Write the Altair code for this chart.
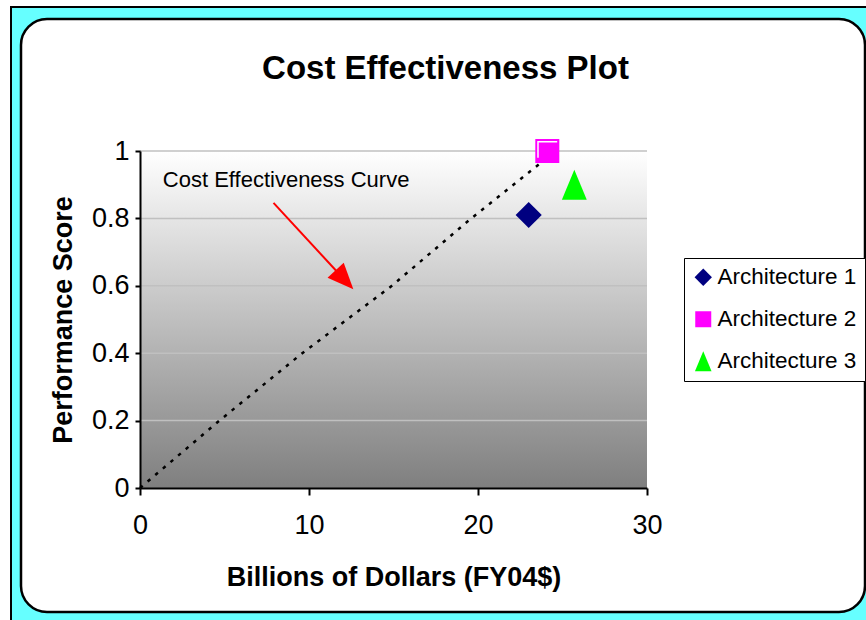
import altair as alt
import pandas as pd

# ---- data ----
archs = ["Architecture 1", "Architecture 2", "Architecture 3"]
arch_cost = [23.0, 24.1, 25.7]
arch_score = [0.81, 1.0, 0.9]

curve_cost = [0.0, 4.7, 9.6, 14.9, 19.6, 24.1]
curve_score = [0.0, 0.2, 0.4, 0.6, 0.8, 0.98]

y_ticks = [0, 0.2, 0.4, 0.6, 0.8, 1.0]
x_ticks = [0, 10, 20, 30]

note_text = ["Cost Effectiveness Curve"]
note_cost = [1.35]
note_score = [0.915]

arrow_cost = [7.9, 12.1]
arrow_score = [0.846, 0.618]

FONT = "Liberation Sans"
W, H = 507, 337
PL, PT = 140, 151

pts = pd.DataFrame({"arch": archs, "cost": arch_cost, "score": arch_score})
curve = pd.DataFrame({"cost": curve_cost, "score": curve_score})
grid = pd.DataFrame({"score": y_ticks[1:]})
note = pd.DataFrame({"t": note_text, "cost": note_cost, "score": note_score})
arrow = pd.DataFrame({"cost": arrow_cost, "score": arrow_score})
one = pd.DataFrame({"a": [0]})

xs = alt.Scale(domain=[0, 30], nice=False, zero=True)
ys = alt.Scale(domain=[0, 1], nice=False, zero=True)

x_axis = alt.Axis(values=x_ticks, title="Billions of Dollars (FY04$)", grid=False, labelFlush=False,
                  labelFont=FONT, labelFontSize=27, labelColor="black", labelPadding=17,
                  titleFont=FONT, titleFontSize=27, titleFontWeight="bold", titleColor="black",
                  titlePadding=26, domainColor="black", domainWidth=2, tickColor="black",
                  tickWidth=2, tickSize=7, zindex=1)
y_axis = alt.Axis(values=y_ticks, format="~g", title="Performance Score", grid=False, labelFlush=False,
                  labelFont=FONT, labelFontSize=27, labelColor="black", labelPadding=6,
                  titleFont=FONT, titleFontSize=27, titleFontWeight="bold", titleColor="black",
                  titlePadding=14, domainColor="black", domainWidth=2, tickColor="black",
                  tickWidth=2, tickSize=5, zindex=1)

# decorative frames (cyan border + white rounded panel)
outer = alt.Chart(one).mark_rect(fill="#66FFFF", stroke="black", strokeWidth=2).encode(
    x=alt.value(11 - PL), x2=alt.value(880 - PL), y=alt.value(7 - PT), y2=alt.value(640 - PT))
panel = alt.Chart(one).mark_rect(fill="white", stroke="black", strokeWidth=2.5, cornerRadius=26).encode(
    x=alt.value(21 - PL), x2=alt.value(865 - PL), y=alt.value(19 - PT), y2=alt.value(612 - PT))

grad = alt.LinearGradient(gradient="linear",
                          stops=[alt.GradientStop(color="#FFFFFF", offset=0),
                                 alt.GradientStop(color="#7F7F7F", offset=1)],
                          x1=0, x2=0, y1=0, y2=1)
plot_bg = alt.Chart(one).mark_rect(fill=grad).encode(
    x=alt.X(datum=0, scale=xs, axis=x_axis), x2=alt.X2(datum=30),
    y=alt.Y(datum=0, scale=ys, axis=y_axis), y2=alt.Y2(datum=1))

grid_l = alt.Chart(grid).mark_rule(color="#C0C0C0", strokeWidth=1.5).encode(
    y=alt.Y("score:Q", scale=ys), x=alt.value(0), x2=alt.value(W))

line = alt.Chart(curve).mark_line(color="black", strokeWidth=2.5, strokeDash=[3.5, 6.5]).encode(
    x=alt.X("cost:Q", scale=xs), y=alt.Y("score:Q", scale=ys))

note_l = alt.Chart(note).mark_text(font=FONT, fontSize=22, align="left", baseline="middle",
                                   color="black").encode(
    x=alt.X("cost:Q", scale=xs), y=alt.Y("score:Q", scale=ys), text="t:N")

arrow_line = alt.Chart(arrow).mark_line(color="#FF0000", strokeWidth=2).encode(
    x=alt.X("cost:Q", scale=xs), y=alt.Y("score:Q", scale=ys))
arrow_head = alt.Chart(arrow.tail(1)).mark_point(
    shape="M1,0L-1,-0.85L-1,0.85Z", filled=True, color="#FF0000", size=676, angle=47,
    opacity=1, strokeWidth=0).encode(
    x=alt.X("cost:Q", scale=xs), y=alt.Y("score:Q", scale=ys))

diamond = "M0,-0.87L0.87,0L0,0.87L-0.87,0Z"
square = "M-0.8,-0.8L0.8,-0.8L0.8,0.8L-0.8,0.8Z"
tri = "M0,-1L-0.83,1L0.83,1Z"
leg = alt.Legend(title=None, orient="none", legendX=544, legendY=107, strokeColor="black",
                 fillColor="white", padding=8, labelFont=FONT, labelFontSize=22.5,
                 labelColor="black", symbolSize=400, rowPadding=19, labelOffset=3,
                 symbolStrokeWidth=0, zindex=1)
points = alt.Chart(pts).mark_point(filled=True, opacity=1, strokeWidth=0, size=900).encode(
    x=alt.X("cost:Q", scale=xs),
    y=alt.Y("score:Q", scale=ys),
    color=alt.Color("arch:N", scale=alt.Scale(domain=archs, range=["#000080", "#FF00FF", "#00FF00"]), legend=leg),
    shape=alt.Shape("arch:N", scale=alt.Scale(domain=archs, range=[diamond, square, tri]), legend=leg),
)
# white bevel highlight inside the square marker
bevel = alt.Chart(pts).transform_filter(alt.datum.arch == archs[1]).mark_point(
    shape="M-0.62,0.45L-0.62,-0.62L0.66,-0.62", filled=False, stroke="white", strokeWidth=1.5,
    size=900, opacity=1).encode(
    x=alt.X("cost:Q", scale=xs), y=alt.Y("score:Q", scale=ys))

chart = alt.layer(outer, panel, plot_bg, grid_l, line, note_l, arrow_line, arrow_head, points, bevel).properties(
    width=W, height=H,
    padding={"left": PL, "top": PT, "right": 866 - PL - W, "bottom": 620 - PT - H},
    autosize=alt.AutoSizeParams(type="none"),
    title=alt.TitleParams(text="Cost Effectiveness Plot", font=FONT, fontSize=33, fontWeight="bold",
                          color="black", anchor="middle", frame="group", dx=52, offset=-106,
                          baseline="alphabetic", zindex=1),
).configure(background="white").configure_view(stroke=None)

chart.save("out.html", embed_options={"renderer": "svg", "actions": False})
